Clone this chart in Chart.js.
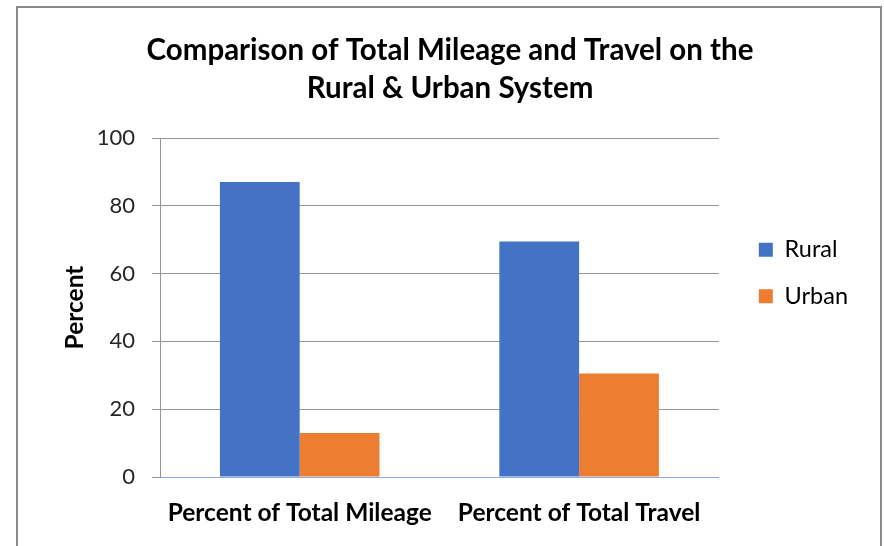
<!DOCTYPE html>
<html lang="en">
<head>
<meta charset="utf-8">
<script src="https://cdn.jsdelivr.net/npm/chart.js@4.4.0/dist/chart.umd.min.js"></script>
<style>
  html, body { margin: 0; padding: 0; background: #fff; overflow: hidden; }
  #marco { position: absolute; left: 16px; top: 6px; width: 862px; height: 600px; border: 2px solid #8a8a8a; pointer-events: none; }
  #grafica { position: absolute; left: 0; top: 0; }
</style>
</head>
<body>
<canvas id="grafica" width="884" height="546"></canvas>
<div id="marco"></div>
<script>
  // datos
  const titulo = ['Comparison of Total Mileage and Travel on the', 'Rural & Urban System']
  const categorias = ['Percent of Total Mileage', 'Percent of Total Travel']
  const rural = [87, 69.5]
  const urbano = [13, 30.5]
  const marcasY = [0, 20, 40, 60, 80, 100]

  Chart.defaults.font.family = 'Lato'

  const contenedor = document.querySelector('#grafica')
  const grafica = new Chart(contenedor, {
    type: 'bar',
    data: {
      labels: categorias,
      datasets: [
        { label: 'Rural', data: rural, backgroundColor: '#4472C4' },
        { label: 'Urban', data: urbano, backgroundColor: '#ED7D31' }
      ]
    },
    options: {
      responsive: false,
      animation: false,
      layout: { padding: { left: 42, right: 26, top: 0, bottom: 0 } },
      datasets: { bar: { categoryPercentage: 0.571, barPercentage: 1 } },
      plugins: {
        title: {
          display: true,
          text: titulo,
          color: '#000',
          font: { size: 29.5, weight: 'bold', lineHeight: '38px' },
          padding: { top: 31, bottom: 31 }
        },
        legend: {
          position: 'right',
          labels: {
            boxWidth: 14,
            boxHeight: 14,
            padding: 23,
            color: '#000',
            font: { size: 23.5 }
          }
        },
        tooltip: { enabled: false }
      },
      scales: {
        x: {
          grid: { display: false },
          border: { color: '#8FAADC', width: 1 },
          ticks: { color: '#000', padding: 13, font: { size: 24.5, weight: 'bold' } },
          afterFit: (escala) => { escala.height = 69 }
        },
        y: {
          min: 0,
          max: 100,
          afterBuildTicks: (escala) => { escala.ticks = marcasY.map(v => ({ value: v })) },
          grid: { color: '#959595', tickColor: '#959595', tickLength: 8 },
          border: { color: '#959595' },
          ticks: { color: '#262626', padding: 17, font: { size: 22 } },
          title: { display: true, text: 'Percent', color: '#000', padding: { top: 18, bottom: 0 }, font: { size: 24.5, weight: 'bold' } },
          afterFit: (escala) => { escala.width = 118 }
        },
        hueco: {
          type: 'linear',
          position: 'right',
          display: true,
          grid: { display: false },
          border: { display: false },
          ticks: { display: false },
          afterFit: (escala) => { escala.width = 17 }
        }
      }
    }
  })
</script>
</body>
</html>
